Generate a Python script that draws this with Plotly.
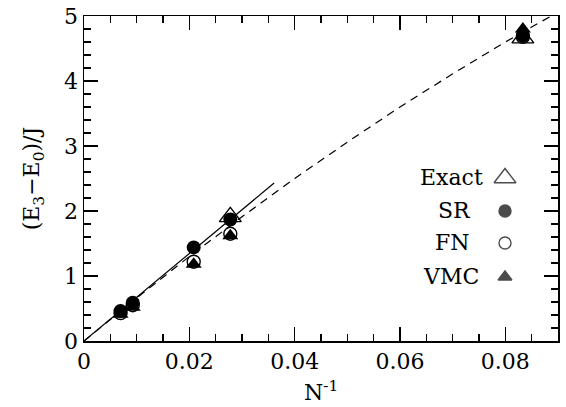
import plotly.graph_objects as go

# ---- data ----
n_inv = [0.00694, 0.00926, 0.02083, 0.02778, 0.08333]
exact_x = [0.02778, 0.08333]
exact_y = [1.91, 4.66]
sr_y = [0.46, 0.59, 1.44, 1.87, 4.70]
fn_y = [0.43, 0.55, 1.22, 1.65, 4.68]
vmc_y = [0.41, 0.52, 1.18, 1.62, 4.80]

solid_x = [0.0, 0.0361]
solid_y = [0.0, 2.43]
dash_x = [0.0, 0.01, 0.02, 0.03, 0.04, 0.05, 0.06, 0.07, 0.08, 0.09]
dash_y = [0.0, 0.66, 1.30, 1.91, 2.50, 3.06, 3.60, 4.11, 4.60, 5.06]

legend_names = ["Exact", "SR", "FN", "VMC"]

FONT = "DejaVu Serif"
W, H = 566, 407
L, R, T, B = 84, 8, 16, 66

fig = go.Figure()

fig.add_trace(go.Scatter(x=solid_x, y=solid_y, mode="lines",
                         line=dict(color="black", width=1.2), showlegend=False))
fig.add_trace(go.Scatter(x=dash_x, y=dash_y, mode="lines",
                         line=dict(color="black", width=1.2, dash="8px,6px"), showlegend=False))

fig.add_trace(go.Scatter(x=exact_x, y=exact_y, mode="markers", cliponaxis=False,
                         marker=dict(symbol="triangle-up-open", size=19, color="black",
                                     line=dict(width=1.4, color="black")), showlegend=False))
fig.add_trace(go.Scatter(x=n_inv, y=sr_y, mode="markers", cliponaxis=False,
                         marker=dict(symbol="circle", size=14, color="black"), showlegend=False))
fig.add_trace(go.Scatter(x=n_inv, y=fn_y, mode="markers", cliponaxis=False,
                         marker=dict(symbol="circle-open", size=13, color="black",
                                     line=dict(width=1.4, color="black")), showlegend=False))
fig.add_trace(go.Scatter(x=n_inv, y=vmc_y, mode="markers", cliponaxis=False,
                         marker=dict(symbol="triangle-up", size=14, color="black"), showlegend=False))

# custom legend (text left, symbol right) on a pixel-coordinate overlay axis
leg_sym_x = 505
leg_rows_y = [178, 211, 243, 277]
leg_text_right = [485, 473, 472, 481]
leg_symbols = ["triangle-up-open", "circle", "circle-open", "triangle-up"]
leg_sizes = [19, 12, 12, 12]
fig.add_trace(go.Scatter(x=[leg_sym_x] * 4, y=leg_rows_y, xaxis="x2", yaxis="y2",
                         mode="markers", showlegend=False, cliponaxis=False,
                         marker=dict(symbol=leg_symbols, size=leg_sizes, color="black",
                                     line=dict(width=1.4, color="black"))))
for name, yy, xr in zip(legend_names, leg_rows_y, leg_text_right):
    fig.add_annotation(x=xr, y=yy - 1, xref="x2", yref="y2", text=name, showarrow=False,
                       xanchor="right", yanchor="middle",
                       font=dict(family=FONT, size=22, color="black"))

# x-axis title as a paper-referenced annotation
xtitle_px = 391
fig.add_annotation(x=0.5, y=(H - B - xtitle_px) / (H - B - T), xref="paper", yref="paper",
                   text="N<sup>-1</sup>", showarrow=False, xanchor="center", yanchor="middle",
                   font=dict(family=FONT, size=22, color="black"))

axis_common = dict(showgrid=False, zeroline=False, showline=True, linecolor="black",
                   linewidth=1.5, mirror="ticks", ticks="inside", ticklen=14,
                   tickwidth=1.5, tickcolor="black", automargin=False,
                   tickfont=dict(family=FONT, size=22, color="black"))

fig.update_layout(
    width=W, height=H,
    margin=dict(l=L, r=R, t=T, b=B, pad=0, autoexpand=False),
    paper_bgcolor="white", plot_bgcolor="white",
    showlegend=False,
    xaxis=dict(range=[0, 0.09], tickvals=[0, 0.02, 0.04, 0.06, 0.08],
               ticktext=["0", "0.02", "0.04", "0.06", "0.08"],
               minor=dict(dtick=0.005, tick0=0, ticks="inside", ticklen=7,
                          tickwidth=1.5, tickcolor="black"),
               **axis_common),
    yaxis=dict(range=[0, 5], dtick=1, tick0=0,
               minor=dict(dtick=0.2, tick0=0, ticks="inside", ticklen=7,
                          tickwidth=1.5, tickcolor="black"),
               title=dict(text="(E<sub>3</sub>\u2212E<sub>0</sub>)/J", standoff=18,
                          font=dict(family=FONT, size=22, color="black")),
               **axis_common),
    xaxis2=dict(range=[L, W - R], overlaying="x", visible=False, fixedrange=True),
    yaxis2=dict(range=[H - B, T], overlaying="y", visible=False, fixedrange=True),
)

fig.write_html("out.html",
               config={"displayModeBar": False, "staticPlot": True},
               post_script="document.body.style.margin='0';document.body.style.overflow='hidden';")
